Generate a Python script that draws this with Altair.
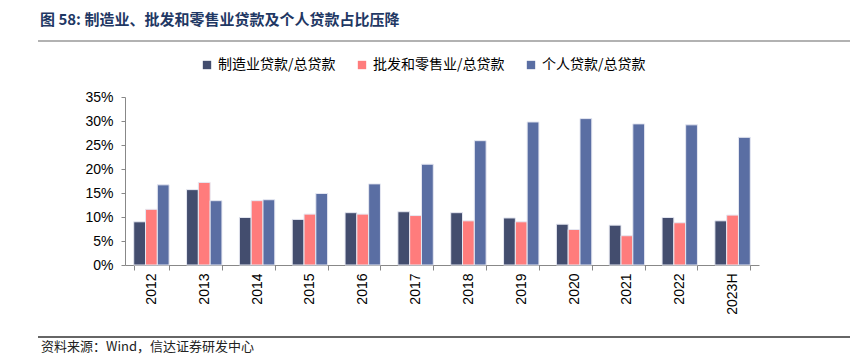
import altair as alt
import pandas as pd

years = ["2012", "2013", "2014", "2015", "2016", "2017", "2018", "2019", "2020", "2021", "2022", "2023H"]
manufacturing = [9.0, 15.7, 9.9, 9.5, 10.9, 11.1, 10.9, 9.8, 8.5, 8.3, 9.9, 9.2]
wholesale = [11.6, 17.2, 13.4, 10.6, 10.6, 10.3, 9.2, 9.0, 7.4, 6.1, 8.8, 10.4]
personal = [16.7, 13.4, 13.6, 14.9, 16.9, 21.0, 25.9, 29.8, 30.5, 29.4, 29.2, 26.6]
series = ["制造业贷款/总贷款", "批发和零售业/总贷款", "个人贷款/总贷款"]
colors = ["#434D6E", "#FF7C7C", "#5A6EA3"]
y_ticks = [0, 0.05, 0.10, 0.15, 0.20, 0.25, 0.30, 0.35]

title_text = "图 58:  制造业、批发和零售业贷款及个人贷款占比压降"
source_text = "资料来源：Wind，信达证券研发中心"

rows = []
for name, vals in zip(series, [manufacturing, wholesale, personal]):
    for yr, v in zip(years, vals):
        rows.append({"year": yr, "series": name, "value": v / 100})
df = pd.DataFrame(rows)

W, H = 634, 168
FONT = "Liberation Sans, Noto Sans CJK SC, sans-serif"
CJK = "Noto Sans CJK SC, sans-serif"

bars = alt.Chart(df).mark_bar(stroke="#E6E8F2", strokeWidth=1).encode(
    x=alt.X("year:N", sort=years, title=None,
            scale=alt.Scale(paddingInner=0.33, paddingOuter=0.165),
            axis=alt.Axis(labelAngle=-90, labelFontSize=14, labelFont=FONT, labelColor="#000",
                          tickBand="extent", tickSize=5, tickColor="#888", domainColor="#888",
                          labelPadding=3, grid=False)),
    xOffset=alt.XOffset("series:N", sort=series, scale=alt.Scale(paddingInner=0, paddingOuter=0)),
    y=alt.Y("value:Q", title=None,
            scale=alt.Scale(domain=[0, 0.35], nice=False),
            axis=alt.Axis(values=y_ticks, format=".0%", labelFontSize=14, labelFont=FONT,
                          labelColor="#000", tickSize=4, tickColor="#888", domainColor="#888",
                          labelPadding=8, grid=False)),
    color=alt.Color("series:N", sort=series,
                    scale=alt.Scale(domain=series, range=colors),
                    legend=alt.Legend(title=None, orient="none", legendX=75, legendY=-39,
                                      direction="horizontal", symbolType="square", symbolSize=70,
                                      symbolStrokeWidth=0, labelFontSize=14, labelFont=CJK,
                                      labelColor="#000", columnPadding=19, labelOffset=4)),
)

title_df = pd.DataFrame({"t": [title_text]})
title = alt.Chart(title_df).mark_text(align="left", baseline="middle", fontSize=15, fontWeight="bold",
                                      font=CJK, color="#1F3864").encode(
    text="t:N", x=alt.value(-85), y=alt.value(-77))

source_df = pd.DataFrame({"t": [source_text]})
source = alt.Chart(source_df).mark_text(align="left", baseline="middle", fontSize=13,
                                        font=CJK, color="#222").encode(
    text="t:N", x=alt.value(-84), y=alt.value(250))

top_line = alt.Chart(title_df).mark_rule(color="#999", strokeWidth=1.5).encode(
    x=alt.value(-87), x2=alt.value(728), y=alt.value(-56))
bottom_line = alt.Chart(title_df).mark_rule(color="#333", strokeWidth=1.5).encode(
    x=alt.value(-87), x2=alt.value(728), y=alt.value(240))

chart = alt.layer(bars, title, source, top_line, bottom_line).properties(
    width=W, height=H,
    autosize=alt.AutoSizeParams(type="none"),
    padding={"left": 117, "top": 89, "right": 91, "bottom": 90},
).configure_view(stroke=None)

chart.save("out.html", embed_options={"renderer": "svg", "actions": False})
